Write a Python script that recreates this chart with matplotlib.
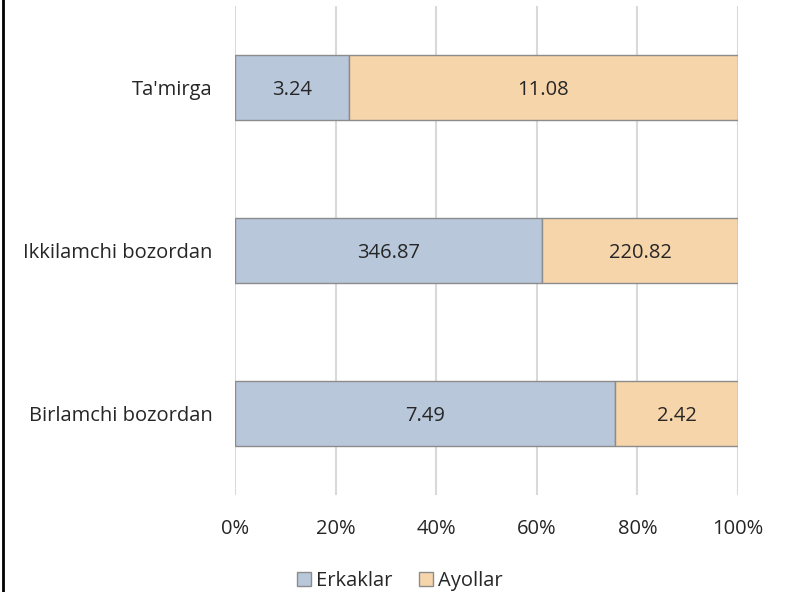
import numpy as np
import matplotlib.pyplot as plt
from matplotlib.lines import Line2D
from matplotlib.ticker import PercentFormatter

categories = ["Birlamchi bozordan", "Ikkilamchi bozordan", "Ta'mirga"]
erkaklar = [7.49, 346.87, 3.24]
ayollar = [2.42, 220.82, 11.08]
series_names = ["Erkaklar", "Ayollar"]
colors = ["#B8C7DA", "#F7D5AA"]

plt.rcParams["font.family"] = ["Open Sans", "DejaVu Sans"]

e = np.array(erkaklar)
a = np.array(ayollar)
tot = e + a
e_pct = e / tot * 100
a_pct = a / tot * 100

fig = plt.figure(figsize=(7.92, 5.92), dpi=100)
ax = fig.add_axes([0.2967, 0.1639, 0.6351, 0.826])

y = np.arange(len(categories))
b1 = ax.barh(y, e_pct, height=0.4, color=colors[0], edgecolor="#8C8C8C", linewidth=1, zorder=3, label=series_names[0])
b2 = ax.barh(y, a_pct, left=e_pct, height=0.4, color=colors[1], edgecolor="#8C8C8C", linewidth=1, zorder=3, label=series_names[1])

# value labels in the middle of each segment
for i in range(len(categories)):
    ax.text(e_pct[i] / 2, y[i], f"{erkaklar[i]:.2f}", ha="center", va="center_baseline", fontsize=14.5, color="#262626", zorder=4)
    ax.text(e_pct[i] + a_pct[i] / 2, y[i], f"{ayollar[i]:.2f}", ha="center", va="center_baseline", fontsize=14.5, color="#262626", zorder=4)

ax.set_xlim(0, 100)
ax.set_ylim(-0.5, 2.5)
ax.set_xticks(np.arange(0, 101, 20))
ax.xaxis.set_major_formatter(PercentFormatter(decimals=0))
ax.set_yticks(y)
ax.set_yticklabels(categories)
ax.tick_params(axis="both", length=0, labelsize=14.5, labelcolor="#262626")
ax.tick_params(axis="x", pad=17)
ax.tick_params(axis="y", pad=16)
ax.grid(axis="x", color="#D9D9D9", linewidth=1.5, zorder=0)
for s in ax.spines.values():
    s.set_visible(False)

fig.legend(handles=[b1, b2], labels=series_names, loc="center", bbox_to_anchor=(0.505, 0.018),
           ncol=2, frameon=False, fontsize=14.5, handlelength=0.7, handleheight=0.7,
           handletextpad=0.25, columnspacing=1.3, labelcolor="#262626", borderpad=0)

fig.add_artist(Line2D([0.004, 0.004], [0, 1], transform=fig.transFigure, color="black", linewidth=2))

fig.savefig("out.png", dpi=100)
